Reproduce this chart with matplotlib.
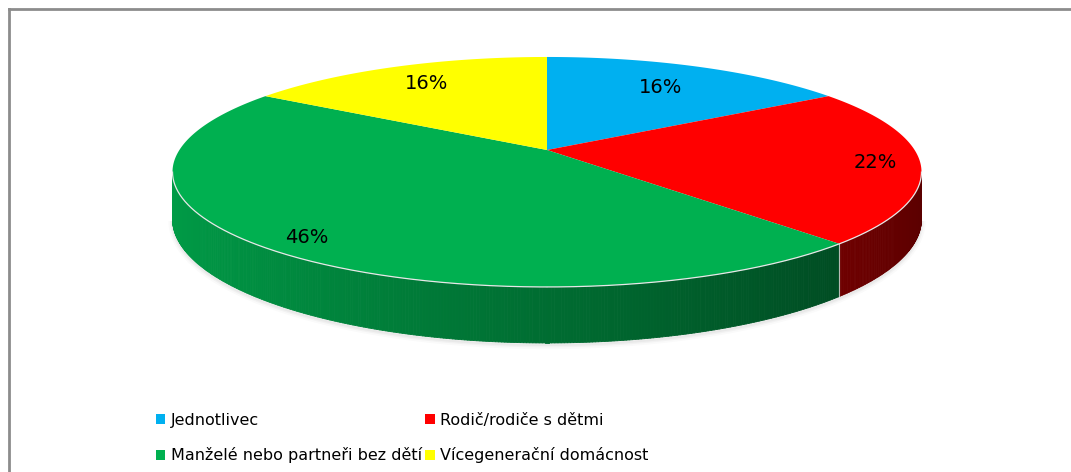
import numpy as np
import matplotlib.pyplot as plt
from matplotlib.patches import Patch
from matplotlib.lines import Line2D

## data
labels = ['Jednotlivec', 'Rodič/rodiče s dětmi',
          'Manželé nebo partneři bez dětí', 'Vícegenerační domácnost']
values = [16, 22, 46, 16]
pct_text = ['16%', '22%', '46%', '16%']
colors = ['#00b0f0', '#ff0000', '#00b050', '#ffff00']

## layout of the 3d pie (pixel-like units, y down)
CX, CY = 547, 150       # where the slices meet
A, B = 367.6, 110.8     # half width / half height of the disc
K = 0.191               # perspective strength
DEPTH = 45.3            # thickness of the disc
label_r = [0.72, 0.88, 0.89, 0.77]

def proj(u, v, h=0.0):
    w = 1 + K * v
    return CX + A * u / w, CY - B * v / w + h * DEPTH / w

fig = plt.figure(figsize=(10.71, 4.72), dpi=100)
ax = fig.add_axes([0, 0, 1, 1])
ax.set_xlim(0, 1071)
ax.set_ylim(472, 0)
ax.axis('off')

total = sum(values)
cum = np.concatenate([[0], np.cumsum(values)])
t_start = 90 - 360 * cum[:-1] / total   # degrees, going clockwise
t_end = 90 - 360 * cum[1:] / total

def slice_of(t):
    # which slice an angle (deg) falls into
    for i in range(len(values)):
        tt = (t - t_end[i]) % 360
        if tt <= (t_start[i] - t_end[i]):
            return i
    return 0

ks = np.degrees(np.arcsin(K))

# soft shadow under the disc
ts = np.radians(np.linspace(-180 + ks, -ks, 200))
sx, sy = proj(np.cos(ts), np.sin(ts), 1.0)
for lw, al in [(6, 0.04), (3.5, 0.06), (1.5, 0.08)]:
    ax.plot(sx, sy + 2, color='gray', lw=lw, alpha=al, solid_capstyle='butt', zorder=1)

# side of the disc, shaded from left to right
tside = np.linspace(-180 + ks, -ks, 400)
for t0, t1 in zip(tside[:-1], tside[1:]):
    i = slice_of((t0 + t1) / 2)
    r0, r1 = np.radians(t0), np.radians(t1)
    xa, ya = proj(np.cos(r0), np.sin(r0))
    xb, yb = proj(np.cos(r1), np.sin(r1))
    xc, yc = proj(np.cos(r1), np.sin(r1), 1.0)
    xd, yd = proj(np.cos(r0), np.sin(r0), 1.0)
    f = 0.62 - 0.27 * np.cos((r0 + r1) / 2)
    base = np.array(plt.matplotlib.colors.to_rgb(colors[i]))
    c = base * f
    ax.fill([xa, xb, xc, xd], [ya, yb, yc, yd], color=c, lw=0.6, ec=c,
            joinstyle='round', zorder=2)

# light seams on the side where slices meet
for t in t_start:
    if -180 + ks < ((t + 180) % 360) - 180 < -ks:
        r = np.radians(t)
        x0, y0 = proj(np.cos(r), np.sin(r))
        x1, y1 = proj(np.cos(r), np.sin(r), 1.0)
        ax.plot([x0, x1], [y0, y1], color='#dddddd', lw=0.8, alpha=0.8, zorder=3)

# top faces
for i in range(len(values)):
    tt = np.radians(np.linspace(t_start[i], t_end[i], 200))
    px, py = proj(np.cos(tt), np.sin(tt))
    ax.fill(np.r_[CX, px], np.r_[CY, py], color=colors[i], lw=0, zorder=4)

# rim highlight
tt = np.radians(np.linspace(-180 + ks, -ks, 300))
px, py = proj(np.cos(tt), np.sin(tt))
ax.plot(px, py, color='#e8e8e8', lw=0.9, zorder=5)

# percentage labels
for i in range(len(values)):
    tm = np.radians((t_start[i] + t_end[i]) / 2)
    lx, ly = proj(label_r[i] * np.cos(tm), label_r[i] * np.sin(tm))
    ax.text(lx, ly, pct_text[i], ha='center', va='center', fontsize=14,
            color='black', zorder=6)

# legend (two columns, filled column-wise)
order = [0, 2, 1, 3]
handles = [Patch(facecolor=colors[i], edgecolor='none') for i in order]
fig.legend(handles, [labels[i] for i in order], ncol=2, loc='upper left',
           bbox_to_anchor=(0.138, 0.142), frameon=False, fontsize=11.5,
           handlelength=0.6, handleheight=0.6, handletextpad=0.35,
           columnspacing=0.2, labelspacing=1.22, borderpad=0)

# chart area frame (only top and left visible)
fig.add_artist(Line2D([9 / 1071, 1.0], [1 - 9 / 472, 1 - 9 / 472],
                      transform=fig.transFigure, color='#8c8c8c', lw=2))
fig.add_artist(Line2D([9 / 1071, 9 / 1071], [0.0, 1 - 9 / 472],
                      transform=fig.transFigure, color='#8c8c8c', lw=2))

fig.savefig('out.png', dpi=100)
